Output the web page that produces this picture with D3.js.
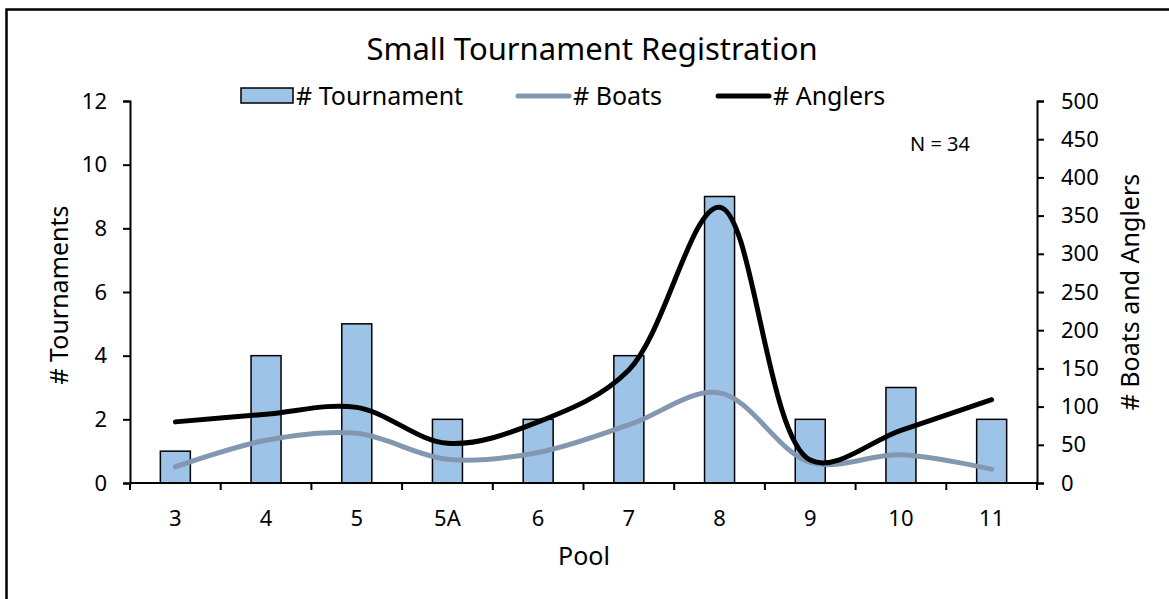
<!DOCTYPE html>
<html><head><meta charset="utf-8">
<script src="https://cdn.jsdelivr.net/npm/d3@7"></script>
<style>
body{margin:0;background:#fff;}
text{font-family:"Noto Sans","Open Sans",sans-serif;fill:#000;}
</style></head>
<body><svg id="c" width="1169" height="599"></svg>
<script>
const categories = ["3","4","5","5A","6","7","8","9","10","11"];
const tournaments = [1,4,5,2,2,4,9,2,3,2];
const boats = [21,56,65,31,40,76,118,27,37,18];
const anglers = [80,90,99,52,80,148,361,30,69,109];
const leftTicks = [0,2,4,6,8,10,12];
const rightTicks = [0,50,100,150,200,250,300,350,400,450,500];

const svg = d3.select("#c");
const L=130, R=1037, T=101, B=483;
const FONT = "Noto Sans, Open Sans, sans-serif";

svg.append("rect").attr("x",6.5).attr("y",9.5).attr("width",1200).attr("height",700)
  .attr("fill","#fff").attr("stroke","#000").attr("stroke-width",2.5);

const x = d3.scaleBand().domain(categories).range([L,R]);
const yL = d3.scaleLinear().domain([0,12]).range([B,T]);
const yR = d3.scaleLinear().domain([0,500]).range([B,T]);

// bars
const bw = 30;
svg.append("g").selectAll("rect").data(tournaments).join("rect")
  .attr("x",(d,i)=>x(categories[i])+x.bandwidth()/2-bw/2)
  .attr("y",d=>yL(d)).attr("width",bw).attr("height",d=>B-yL(d))
  .attr("fill","#9DC3E6").attr("stroke","#000").attr("stroke-width",1.5);

// axes
const fs = "22px";
const gl = svg.append("g").attr("transform",`translate(${L},0)`)
  .call(d3.axisLeft(yL).tickValues(leftTicks).tickSize(7).tickPadding(16));
const gr = svg.append("g").attr("transform",`translate(${R},0)`)
  .call(d3.axisRight(yR).tickValues(rightTicks).tickSize(7).tickPadding(17));
const gx = svg.append("g").attr("transform",`translate(0,${B})`)
  .call(d3.axisBottom(x).tickSize(0).tickPadding(27));
[gl,gr,gx].forEach(g=>{
  g.select(".domain").attr("stroke","#000").attr("stroke-width",2);
  g.selectAll(".tick line").attr("stroke","#000").attr("stroke-width",2);
  g.selectAll("text").style("font-size",fs).style("font-family",FONT).attr("fill","#000");
});
gx.select(".domain").attr("d",`M${L},0H${R}`);
// x boundary ticks
const bounds = categories.map(c=>x(c)).concat([R]);
gx.selectAll(".bt").data(bounds).join("line").attr("class","bt")
  .attr("x1",d=>d).attr("x2",d=>d).attr("y1",0).attr("y2",7)
  .attr("stroke","#000").attr("stroke-width",2);

// lines
const cx = i=>x(categories[i])+x.bandwidth()/2;
const line = d3.line().x((d,i)=>cx(i)).y(d=>yR(d)).curve(d3.curveCatmullRom.alpha(0.5));
svg.append("path").datum(boats).attr("d",line).attr("fill","none")
  .attr("stroke","#8497B0").attr("stroke-width",5).attr("stroke-linecap","round");
svg.append("path").datum(anglers).attr("d",line).attr("fill","none")
  .attr("stroke","#000").attr("stroke-width",5).attr("stroke-linecap","round");

// title
svg.append("text").attr("x",592).attr("y",60).attr("text-anchor","middle")
  .style("font-size","31px").text("Small Tournament Registration");

// legend
const ly = 96;
svg.append("rect").attr("x",241).attr("y",88).attr("width",52).attr("height",15)
  .attr("fill","#9DC3E6").attr("stroke","#000").attr("stroke-width",1.5);
svg.append("text").attr("x",296).attr("y",105).style("font-size","25px").text("# Tournament");
svg.append("line").attr("x1",518).attr("x2",569).attr("y1",ly).attr("y2",ly)
  .attr("stroke","#8497B0").attr("stroke-width",5).attr("stroke-linecap","round");
svg.append("text").attr("x",573).attr("y",105).style("font-size","25px").text("# Boats");
svg.append("line").attr("x1",718).attr("x2",769).attr("y1",ly).attr("y2",ly)
  .attr("stroke","#000").attr("stroke-width",5).attr("stroke-linecap","round");
svg.append("text").attr("x",773).attr("y",105).style("font-size","25px").text("# Anglers");

svg.append("text").attr("x",910).attr("y",151).style("font-size","20px").text("N = 34");

// axis titles
svg.append("text").attr("transform","translate(68,295) rotate(-90)").attr("text-anchor","middle")
  .style("font-size","25px").text("# Tournaments");
svg.append("text").attr("transform","translate(1139,292) rotate(-90)").attr("text-anchor","middle")
  .style("font-size","25px").text("# Boats and Anglers");
svg.append("text").attr("x",584).attr("y",565).attr("text-anchor","middle")
  .style("font-size","25px").text("Pool");
</script></body></html>
